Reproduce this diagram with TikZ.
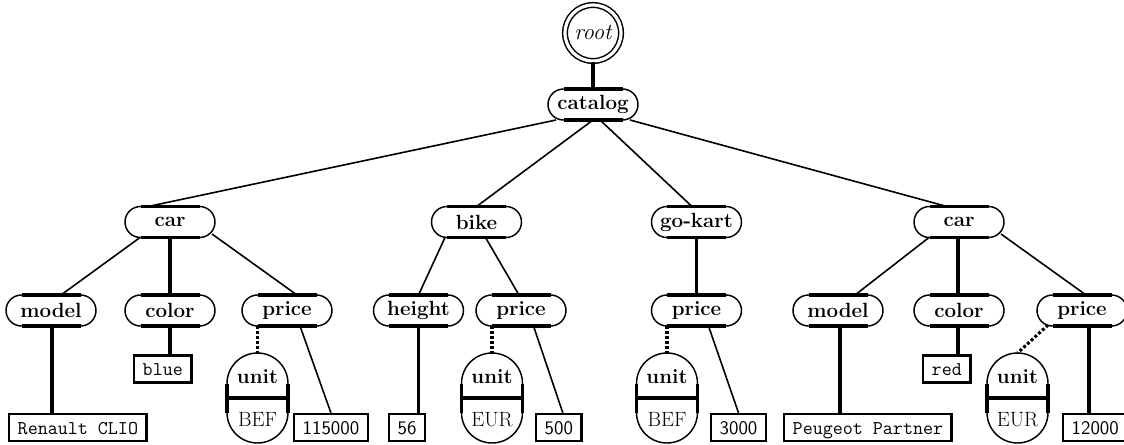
\documentclass[tikz,border=0pt]{standalone}
\usepackage{fontspec}
\usetikzlibrary{shapes.misc,calc}
\newcommand\BoldFont{\fontsize{15.4}{18}\selectfont\bfseries}
\newcommand\RmFont{\fontsize{15.5}{18}\selectfont}
\newcommand\TTFont{\fontsize{14.6}{17}\selectfont\ttfamily}
\newcommand\SFFont{\fontsize{14.4}{17}\selectfont\sffamily}
\newcommand\ItFont{\fontsize{17}{20}\selectfont\itshape}
\tikzset{
  pill/.style={rounded rectangle, draw, line width=1.1pt, minimum width=67.5pt,
    minimum height=23.25pt, inner sep=0pt, outer sep=0pt, font=\BoldFont},
  bar/.style={line width=2.8pt},
  thinedge/.style={line width=1.2pt},
  thickedge/.style={line width=2.4pt},
  dotedge/.style={line width=2.3pt, dash pattern=on 2.2pt off 1.6pt},
  leaf/.style={draw, line width=1.8pt, inner xsep=6.4pt, inner ysep=0pt,
    minimum height=20pt, text height=10pt, text depth=0pt, font=\TTFont},
  numleaf/.style={leaf, font=\SFFont},
  unitbody/.style={inner sep=0pt, outer sep=0pt, minimum width=45.75pt, minimum height=67.5pt},
  unittext/.style={anchor=base, inner sep=0pt},
  rootnode/.style={circle, draw, double, line width=1.1pt, double distance=2.4pt,
    minimum size=42pt, inner sep=0pt, font=\ItFont}
}
\newcommand\Pill[4]{%
  \node[pill] (#1) at (#2,-#3) {#4};
  \draw[bar] ($(#1.north)+(-29.5,0)$) -- ($(#1.north)+(29.5,0)$)
             ($(#1.south)+(-29.5,0)$) -- ($(#1.south)+(29.5,0)$);}
\newcommand\UnitNode[4]{%
  \node[unitbody] (#1) at (#2,-#3) {};
  \draw[line width=1.1pt] ($(#1.center)+(-30.5,14.5)$) arc[start angle=180,end angle=0,radius=30.5]
     -- ($(#1.center)+(30.5,-14.5)$) arc[start angle=0,end angle=-180,radius=30.5] -- cycle;
  \draw[bar] ($(#1.center)+(-30.5,14.5)$) -- ($(#1.center)+(-30.5,-14.5)$)
             ($(#1.center)+(30.5,14.5)$) -- ($(#1.center)+(30.5,-14.5)$)
             ($(#1.center)+(-30.5,0)$) -- ($(#1.center)+(30.5,0)$);
  \node[unittext, font=\BoldFont] (#1-l) at ($(#1.center)+(0,15)$) {unit};
  \node[unittext, font=\RmFont] (#1-v) at ($(#1.center)+(0,-28)$) {#4};}
\begin{document}
\begin{tikzpicture}[x=0.75pt,y=0.75pt]
\useasboundingbox (0,0) rectangle (1124,-444);
% nodes
\node[rootnode] (root) at (593,-33) {root};
\Pill{catalog}{593}{104.5}{catalog}
\Pill{car1}{170}{222}{car}
\Pill{bike}{476.5}{222}{bike}
\Pill{gokart}{696.5}{222}{go-kart}
\Pill{car2}{959}{222}{car}
\Pill{model1}{51}{310.5}{model}
\Pill{color1}{170}{310.5}{color}
\Pill{price1}{287}{310.5}{price}
\Pill{height}{418.5}{310.5}{height}
\Pill{priceb}{521}{310.5}{price}
\Pill{priceg}{696.5}{310.5}{price}
\Pill{model2}{838}{310.5}{model}
\Pill{color2}{959}{310.5}{color}
\Pill{price2}{1082}{310.5}{price}
\UnitNode{unit1}{257.5}{398}{BEF}
\UnitNode{unitb}{492}{398}{EUR}
\UnitNode{unitg}{667}{398}{BEF}
\UnitNode{unit2}{1017.5}{398}{EUR}
\node[leaf, anchor=west] (renault) at (8,-427.5) {Renault CLIO};
\node[leaf, anchor=west] (blue) at (133,-369) {blue};
\node[numleaf, anchor=west] (n115000) at (293,-427.5) {115000};
\node[numleaf, anchor=west] (n56) at (388,-427.5) {56};
\node[numleaf, anchor=west] (n500) at (535,-427.5) {500};
\node[numleaf, anchor=west] (n3000) at (710,-427.5) {3000};
\node[leaf, anchor=west] (peugeot) at (783,-427.5) {Peugeot Partner};
\node[leaf, anchor=west] (red) at (922,-369) {red};
\node[numleaf, anchor=west] (n12000) at (1062,-427.5) {12000};
% connector end points
\coordinate (m1b) at ($(model1.south)+(1,0)$);
\coordinate (c2b) at ($(color2.south)+(-1,0)$);
\coordinate (m2b) at ($(model2.south)+(2,0)$);
\coordinate (p2b) at ($(price2.south)+(7,0)$);
% connectors
\draw[thickedge] (root.south) -- (catalog.north);
\draw[thinedge] ($(catalog.center)+(-37,-15.5)$) -- ($(car1.center)+(-22,15.5)$);
\draw[thinedge] (catalog.south) -- (bike.north);
\draw[thinedge] ($(catalog.center)+(7,-15.5)$) -- ($(gokart.center)+(-4.5,15.5)$);
\draw[thinedge] ($(catalog.center)+(37,-15.5)$) -- ($(car2.center)+(-12,15.5)$);
\draw[thinedge] ($(car1.center)+(-30,-15.5)$) -- ($(model1.center)+(10,15.5)$);
\draw[thickedge] (car1.south) -- (color1.north);
\draw[thinedge] ($(car1.center)+(42,-12)$) -- ($(price1.center)+(10,15.5)$);
\draw[thickedge] (m1b) -- (m1b |- renault.north);
\draw[thickedge] (color1.south) -- (color1.south |- blue.north);
\draw[dotedge] (price1.south -| unit1.north) -- (unit1.north);
\draw[thinedge] ($(price1.center)+(13,-15.5)$) -- (n115000.north);
\draw[thinedge] ($(bike.center)+(-31.5,-15.5)$) -- (height.north);
\draw[thinedge] ($(bike.center)+(9,-15.5)$) -- ($(priceb.center)+(-2,15.5)$);
\draw[thickedge] (height.south) -- (height.south |- n56.north);
\draw[dotedge] (priceb.south -| unitb.north) -- (unitb.north);
\draw[thinedge] ($(priceb.center)+(12.5,-15.5)$) -- ($(n500.north)+(4,0)$);
\draw[thickedge] (gokart.south) -- (priceg.north);
\draw[dotedge] (priceg.south -| unitg.north) -- (unitg.north);
\draw[thinedge] ($(priceg.center)+(12,-15.5)$) -- (n3000.north);
\draw[thinedge] ($(car2.center)+(-30,-15.5)$) -- ($(model2.center)+(17,15.5)$);
\draw[thickedge] ($(car2.south)+(-1,0)$) -- ($(color2.north)+(-1,0)$);
\draw[thinedge] ($(car2.center)+(42,-12)$) -- ($(price2.center)+(4,15.5)$);
\draw[thickedge] (c2b) -- (c2b |- red.north);
\draw[thickedge] (m2b) -- (m2b |- peugeot.north);
\draw[dotedge] ($(price2.center)+(-34,-14.5)$) -- (unit2.north);
\draw[thickedge] (p2b) -- (p2b |- n12000.north);
\end{tikzpicture}
\end{document}
